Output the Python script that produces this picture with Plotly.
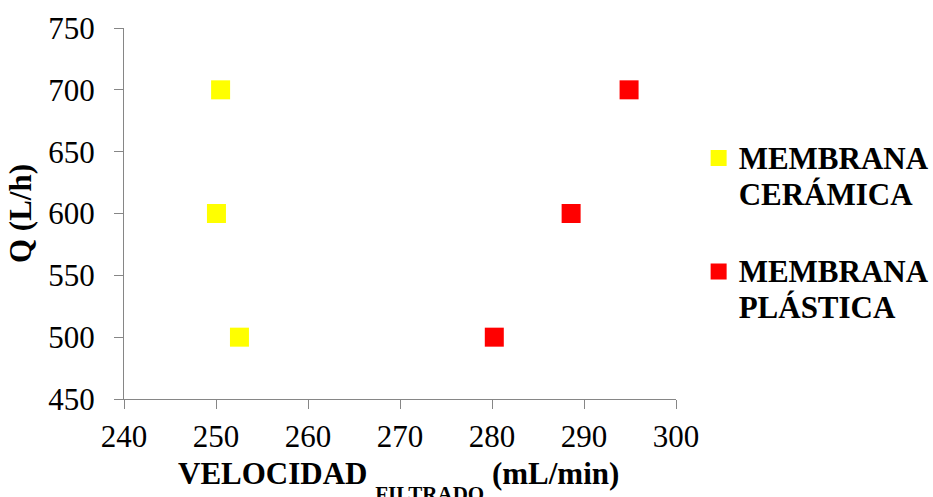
import plotly.graph_objects as go

# Filtrate velocity (mL/min) vs. flow Q (L/h) for two membranes
q_values = [700, 600, 500]
vel_ceramica = [250.5, 250.05, 252.55]
vel_plastica = [294.9, 288.6, 280.25]

x_ticks = [240, 250, 260, 270, 280, 290, 300]
y_ticks = [450, 500, 550, 600, 650, 700, 750]

FONT = "Liberation Serif, Times New Roman, serif"
AXIS_GREY = "#868686"
TXT = 31

X_TITLE = ("<b>VELOCIDAD <span style='font-size:21px;baseline-shift:-17px'>"
           "FILTRADO</span> (mL/min)</b>")


def legend_label(*lines):
    # each line keeps the full text size; the legend font size sets the line pitch
    return "<b>" + "<br>".join(
        f"<span style='font-size:{TXT}px'>{ln}</span>" for ln in lines) + "</b>"


fig = go.Figure()
fig.add_trace(go.Scatter(
    x=vel_ceramica, y=q_values, mode="markers",
    name=legend_label("MEMBRANA", "CERÁMICA"), legendgroup="ceramica",
    marker=dict(symbol="square", size=19, color="#FFFF00", line=dict(width=0)),
))
fig.add_trace(go.Scatter(
    x=vel_plastica, y=q_values, mode="markers",
    name=legend_label("MEMBRANA", "PLÁSTICA"), legendgroup="plastica",
    marker=dict(symbol="square", size=19, color="#FF0000", line=dict(width=0)),
))

# x-axis title as a free annotation so the lowered subscript may run off the page edge
fig.add_annotation(
    text=X_TITLE, xref="paper", yref="paper", x=0.497, y=-0.148,
    xanchor="center", yanchor="top", showarrow=False,
    font=dict(family=FONT, size=TXT, color="black"),
)

fig.update_layout(
    width=933, height=497,
    margin=dict(l=124, r=257, t=28, b=98, autoexpand=False),
    paper_bgcolor="white", plot_bgcolor="white",
    font=dict(family=FONT, size=TXT, color="black"),
    showlegend=True,
    legend=dict(
        x=1.041, xanchor="left", xref="paper",
        y=0.715, yanchor="top",
        font=dict(family=FONT, size=27.5, color="black"),
        valign="top", itemwidth=30, tracegroupgap=39,
        bgcolor="rgba(0,0,0,0)",
    ),
    xaxis=dict(
        range=[240, 300], tickvals=x_ticks, ticktext=[str(v) for v in x_ticks],
        showgrid=False, zeroline=False,
        showline=True, linecolor=AXIS_GREY, linewidth=1,
        ticks="outside", ticklen=9, tickcolor=AXIS_GREY, tickwidth=1,
        ticklabelstandoff=1,
        tickfont=dict(family=FONT, size=TXT, color="black"),
    ),
    yaxis=dict(
        range=[450, 750], tickvals=y_ticks, ticktext=[str(v) for v in y_ticks],
        showgrid=False, zeroline=False,
        showline=True, linecolor=AXIS_GREY, linewidth=1,
        ticks="outside", ticklen=9, tickcolor=AXIS_GREY, tickwidth=1,
        ticklabelstandoff=13,
        tickfont=dict(family=FONT, size=TXT, color="black"),
        title=dict(text="<b>Q (L/h)</b>",
                   font=dict(family=FONT, size=TXT, color="black"), standoff=7),
    ),
)

fig.write_html("out.html")
